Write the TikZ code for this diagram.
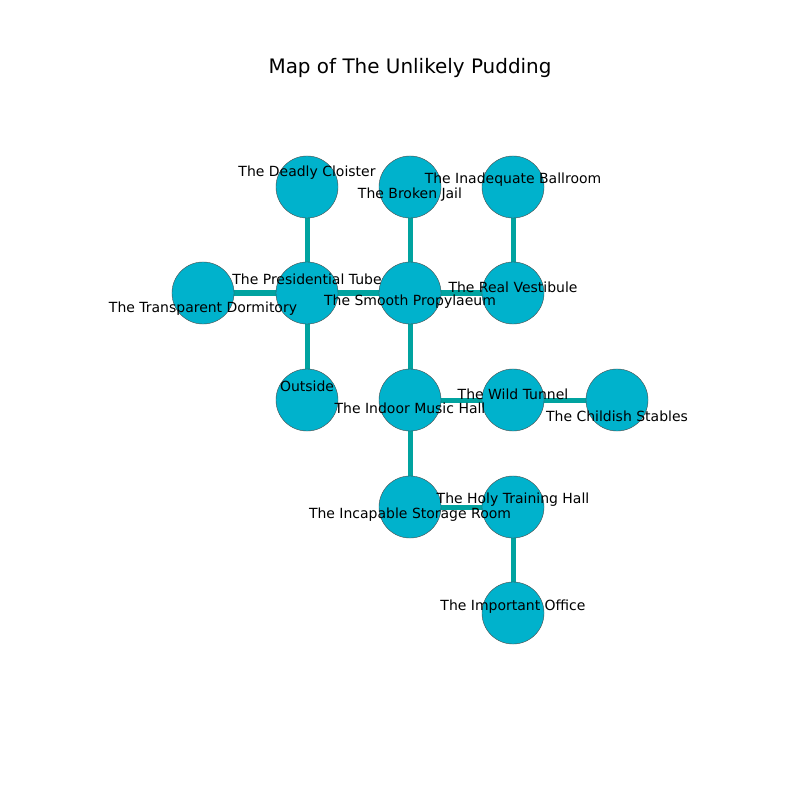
\documentclass[tikz,border=0pt]{standalone}
\usepackage{fontspec}
\setmainfont{DejaVu Sans}
\usepackage{xcolor}
\usepackage{tikz}
\definecolor{roomfill}{HTML}{00B2CC}
\definecolor{passage}{HTML}{00A3A0}
\pgfdeclarelayer{bg}
\pgfsetlayers{bg,main}
\tikzset{
  room/.style={circle,draw=gray!60!black,line width=0.3pt,fill=roomfill,minimum size=0.62in,inner sep=0pt},
  passage/.style={draw=passage,line width=0.05in},
  lbl/.style={font=\fontsize{10.1}{12}\selectfont,inner sep=0pt}
}

\begin{document}
\begin{tikzpicture}[x=0.01in,y=-0.01in]
      \useasboundingbox (0,0) rectangle (800,800);
      \node[font=\fontsize{14.4}{17}\selectfont] (T) at (410,68) {Map of The Unlikely Pudding};
      \node[room] (DC) at (307,187) {};
      \node[room] (BJ) at (410,187) {};
      \node[room] (IB) at (513,187) {};
      \node[room] (TD) at (203,293) {};
      \node[room] (PT) at (307,293) {};
      \node[room] (SP) at (410,293) {};
      \node[room] (RV) at (513,293) {};
      \node[room] (OU) at (307,400) {};
      \node[room] (IM) at (410,400) {};
      \node[room] (WT) at (513,400) {};
      \node[room] (CS) at (617,400) {};
      \node[room] (IS) at (410,507) {};
      \node[room] (HT) at (513,507) {};
      \node[room] (IO) at (513,613) {};
        % labels
      \node[lbl] (DC-l) at (307,173) {The Deadly Cloister};
      \node[lbl] (BJ-l) at (410,195) {The Broken Jail};
      \node[lbl] (IB-l) at (513,180) {The Inadequate Ballroom};
      \node[lbl] (TD-l) at (203,309) {The Transparent Dormitory};
      \node[lbl] (PT-l) at (307,279) {The Presidential Tube};
      \node[lbl] (SP-l) at (410,302) {The Smooth Propylaeum};
      \node[lbl] (RV-l) at (513,287) {The Real Vestibule};
      \node[lbl] (OU-l) at (307,386) {Outside};
      \node[lbl] (IM-l) at (410,408) {The Indoor Music Hall};
      \node[lbl] (WT-l) at (513,394) {The Wild Tunnel};
      \node[lbl] (CS-l) at (617,416) {The Childish Stables};
      \node[lbl] (IS-l) at (410,515) {The Incapable Storage Room};
      \node[lbl] (HT-l) at (513,500) {The Holy Training Hall};
      \node[lbl] (IO-l) at (513,607) {The Important Office};
      \begin{pgfonlayer}{bg}
      \draw[passage] (DC) -- (PT);
      \draw[passage] (BJ) -- (SP);
      \draw[passage] (IB) -- (RV);
      \draw[passage] (TD) -- (PT);
      \draw[passage] (PT) -- (SP);
      \draw[passage] (SP) -- (RV);
      \draw[passage] (PT) -- (OU);
      \draw[passage] (SP) -- (IM);
      \draw[passage] (IM) -- (WT);
      \draw[passage] (WT) -- (CS);
      \draw[passage] (IM) -- (IS);
      \draw[passage] (IS) -- (HT);
      \draw[passage] (HT) -- (IO);
      \end{pgfonlayer}
\end{tikzpicture}
\end{document}
